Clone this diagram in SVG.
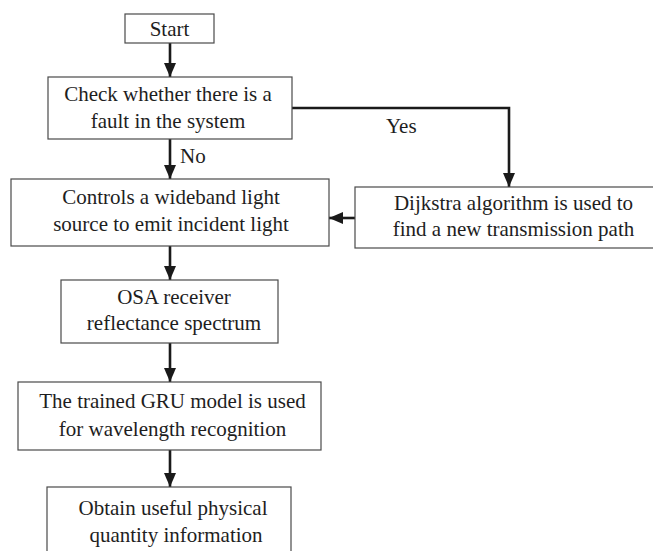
<svg xmlns="http://www.w3.org/2000/svg" width="653" height="551" viewBox="0 0 653 551">
<defs>
<marker id="ah" markerUnits="userSpaceOnUse" markerWidth="14" markerHeight="12" refX="14" refY="6" orient="auto">
<path d="M0,0 L14,6 L0,12 Z" fill="#1a1a1a"/>
</marker>
<style>
.box{fill:#fff;stroke:#4a4a4a;stroke-width:1.2}
.t{font-family:"Liberation Serif","Times New Roman",serif;font-size:21px;fill:#1e1e1e;text-anchor:middle}
.c{fill:none;stroke:#1a1a1a;stroke-width:2.6;marker-end:url(#ah)}
.lbl{font-family:"Liberation Serif","Times New Roman",serif;font-size:21px;fill:#1e1e1e}
</style>
</defs>
<rect width="653" height="551" fill="#fff"/>
<g id="connectors">
<line class="c" x1="170" y1="43" x2="170" y2="77"/>
<line class="c" x1="170" y1="139" x2="170" y2="179"/>
<polyline class="c" points="292,108 509,108 509,187"/>
<line class="c" x1="355" y1="218" x2="329" y2="218"/>
<line class="c" x1="170" y1="246" x2="170" y2="280"/>
<line class="c" x1="170" y1="343" x2="170" y2="382"/>
<line class="c" x1="170" y1="450" x2="170" y2="487"/>
<text class="lbl" x="180" y="163">No</text>
<text class="lbl" x="386" y="133">Yes</text>
</g>
<g id="start">
<rect class="box" x="125" y="14" width="89" height="29"/>
<text class="t" x="169.5" y="36">Start</text>
</g>
<g id="check">
<rect class="box" x="48" y="77" width="244" height="62"/>
<text class="t" x="168" y="101">Check whether there is a</text>
<text class="t" x="168" y="128">fault in the system</text>
</g>
<g id="controls">
<rect class="box" x="11" y="179" width="318" height="67"/>
<text class="t" x="171" y="204">Controls a wideband light</text>
<text class="t" x="171" y="231">source to emit incident light</text>
</g>
<g id="dijkstra">
<rect class="box" x="355" y="187" width="300" height="61"/>
<text class="t" x="513.5" y="210">Dijkstra algorithm is used to</text>
<text class="t" x="513.5" y="236">find a new transmission path</text>
</g>
<g id="osa">
<rect class="box" x="61" y="280" width="217" height="63"/>
<text class="t" x="174" y="304">OSA receiver</text>
<text class="t" x="174" y="330">reflectance spectrum</text>
</g>
<g id="gru">
<rect class="box" x="18" y="382" width="303" height="68"/>
<text class="t" x="172.5" y="408">The trained GRU model is used</text>
<text class="t" x="172.5" y="436">for wavelength recognition</text>
</g>
<g id="obtain">
<rect class="box" x="47" y="487" width="244" height="70"/>
<text class="t" x="173" y="515">Obtain useful physical</text>
<text class="t" x="176" y="542">quantity information</text>
</g>
</svg>
